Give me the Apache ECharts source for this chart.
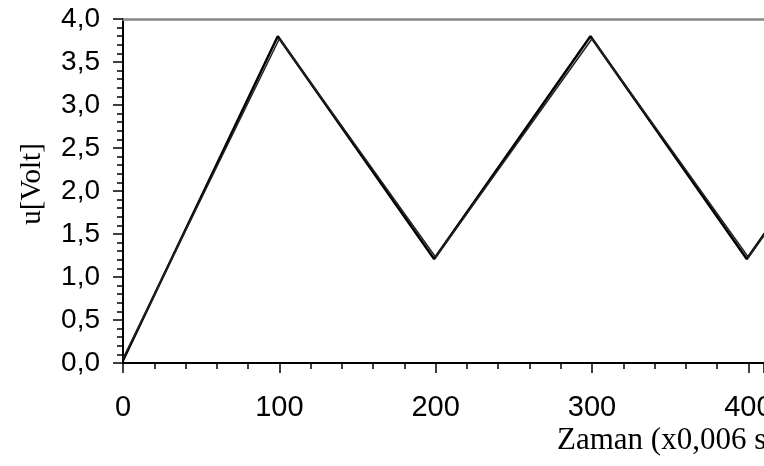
<!DOCTYPE html>
<html>
<head>
<meta charset="utf-8">
<script src="https://cdn.jsdelivr.net/npm/echarts@6/dist/echarts.min.js"></script>
<style>
  html, body { margin: 0; padding: 0; background: #fff; }
  #chart { width: 764px; height: 466px; }
</style>
</head>
<body>
<div id="chart"></div>
<script>
// olculen ve hesaplanan gerilim (ucgen dalga)
const zamanA = [0, 99, 199, 299, 399, 499];
const gerilimA = [0.03, 3.8, 1.21, 3.8, 1.21, 3.8];
const zamanB = [0, 100, 200, 300, 400, 500];
const gerilimB = [0.05, 3.77, 1.23, 3.77, 1.23, 3.77];

const xName = "Zaman (x0,006 s)";
const yName = "u[Volt]";

const pair = (xs, ys) => xs.map((x, i) => [x, ys[i]]);

let chart = echarts.init(document.getElementById("chart"));
chart.setOption({
  animation: false,
  grid: { left: 123, top: 19, right: 0, bottom: 103, outerBoundsMode: "none", containLabel: false },
  xAxis: [
    {
      type: "value",
      min: 0,
      max: 410,
      interval: 100,
      splitNumber: 5,
      splitLine: { show: false },
      axisLine: { lineStyle: { color: "#000", width: 2 } },
      axisTick: { inside: false, length: 10, lineStyle: { color: "#000", width: 1.5 } },
      minorTick: { show: true, splitNumber: 5, length: 6, lineStyle: { color: "#000", width: 1.5 } },
      axisLabel: {
        margin: 30,
        color: "#000",
        fontFamily: "Liberation Sans",
        fontSize: 29,
        formatter: (v) => (v % 100 === 0 ? String(v) : ""),
      },
    },
    {
      type: "value",
      position: "top",
      min: 0,
      max: 410,
      axisLine: { show: true, onZero: false, lineStyle: { color: "#888", width: 2.5 } },
      axisTick: { show: false },
      axisLabel: { show: false },
      splitLine: { show: false },
    },
  ],
  yAxis: {
    type: "value",
    min: 0,
    max: 4,
    interval: 0.5,
    splitLine: { show: false },
    axisLine: { show: true, lineStyle: { color: "#000", width: 2 } },
    axisTick: { show: true, inside: false, length: 10, lineStyle: { color: "#000", width: 1.5 } },
    minorTick: { show: true, splitNumber: 5, length: 6, lineStyle: { color: "#000", width: 1.5 } },
    axisLabel: {
      margin: 23,
      color: "#000",
      fontFamily: "Liberation Sans",
      fontSize: 28,
      formatter: (v) => v.toFixed(1).replace(".", ","),
    },
  },
  graphic: [
    {
      type: "text",
      x: 32,
      y: 184,
      rotation: Math.PI / 2,
      style: {
        text: yName,
        fill: "#000",
        font: "29px 'Liberation Serif'",
        align: "center",
        verticalAlign: "middle",
      },
    },
    {
      type: "text",
      left: 557,
      top: 425,
      style: {
        text: xName,
        fill: "#000",
        font: "31px 'Liberation Serif'",
      },
    },
  ],
  series: [
    {
      type: "line",
      data: pair(zamanA, gerilimA),
      showSymbol: false,
      lineStyle: { color: "#000", width: 2.5 },
    },
    {
      type: "line",
      data: pair(zamanB, gerilimB),
      showSymbol: false,
      lineStyle: { color: "#222", width: 1.5 },
    },
  ],
});
</script>
</body>
</html>
